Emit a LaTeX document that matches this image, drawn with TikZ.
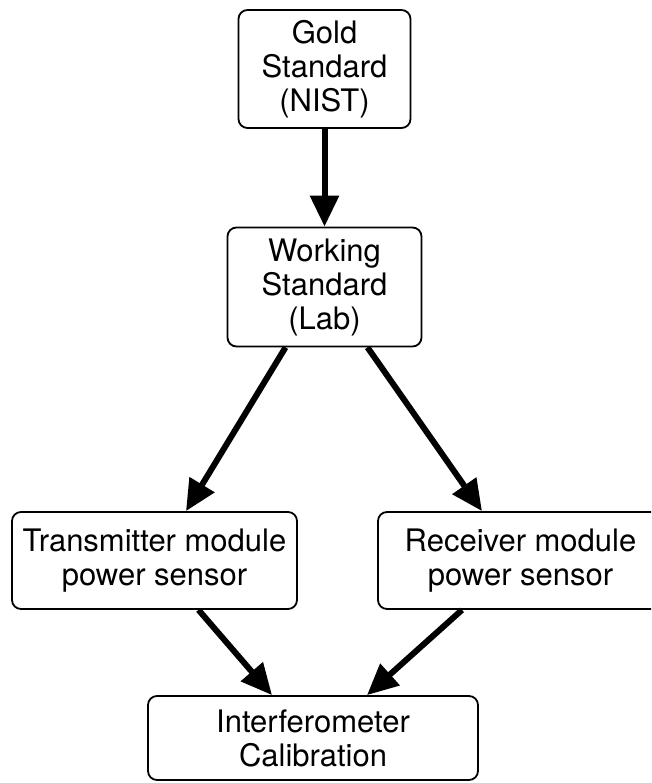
\documentclass[tikz,border=0pt]{standalone}
\usepackage{fontspec}
\setmainfont{TeX Gyre Heros}
\usetikzlibrary{arrows.meta}
\begin{document}
\begin{tikzpicture}[x=1pt,y=-1pt,
  box/.style={draw,line width=1.8pt,rounded corners=9pt,align=center,inner sep=0pt,
    font=\fontsize{31}{34}\selectfont},
  conn/.style={line width=6pt,-{Triangle[length=31pt,width=28pt]}}]
\useasboundingbox (0,0) rectangle (651,783);
\clip (0,0) rectangle (651,783);
\node[box,minimum width=172pt,minimum height=118pt] (gold) at (324.5,69) {Gold\\Standard\\(NIST)};
\node[box,minimum width=194pt,minimum height=119pt] (work) at (324.5,287) {Working\\Standard\\(Lab)};
\node[box,minimum width=285pt,minimum height=97pt] (trans) at (154.5,560.5) {Transmitter module\\power sensor};
\node[box,minimum width=285pt,minimum height=97pt] (recv) at (520.5,560.5) {Receiver module\\power sensor};
\node[box,minimum width=330pt,minimum height=84pt] (intf) at (313,738) {Interferometer\\Calibration};
\draw[conn] (gold.south) -- (work.north);
\draw[conn] ([xshift=-39pt]work.south) -- ([xshift=31.5pt]trans.north);
\draw[conn] ([xshift=43pt]work.south) -- ([xshift=-38.5pt]recv.north);
\draw[conn] ([xshift=44pt]trans.south) -- ([xshift=-41pt]intf.north);
\draw[conn] ([xshift=-58.5pt]recv.south) -- ([xshift=54pt]intf.north);
\end{tikzpicture}
\end{document}
